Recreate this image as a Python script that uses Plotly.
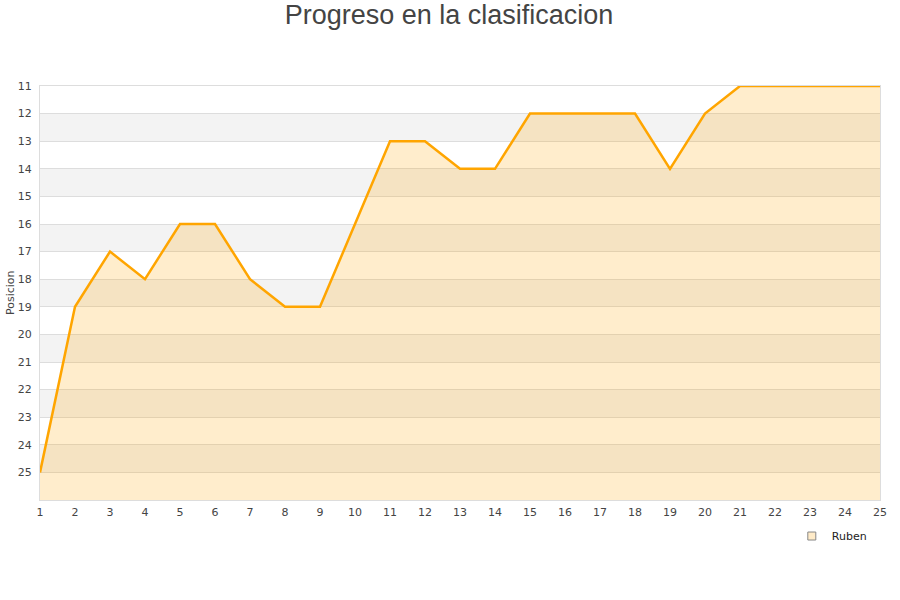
import plotly.graph_objects as go

jornadas = list(range(1, 26))
posicion = [25, 19, 17, 18, 16, 16, 18, 19, 19, 16, 13, 13, 14, 14, 12, 12, 12, 12, 14, 12, 11, 11, 11, 11, 11]
y_ticks = list(range(11, 26))
serie = "Ruben"

fig = go.Figure()

# baseline for fill (bottom of reversed axis)
fig.add_trace(go.Scatter(x=jornadas, y=[26] * len(jornadas), mode="lines",
                         line=dict(width=0, color="rgba(0,0,0,0)"), showlegend=False, hoverinfo="skip"))
fig.add_trace(go.Scatter(x=jornadas, y=posicion, mode="lines", fill="tonexty",
                         fillcolor="rgba(255,165,0,0.2)",
                         line=dict(color="#FFA500", width=2.5), showlegend=False, name=serie))
fig.add_trace(go.Scatter(x=[None], y=[None], mode="markers", name=serie,
                         marker=dict(symbol="square", size=8, color="rgb(255,235,200)",
                                     line=dict(color="#888", width=1))))

shapes = []
for lo in range(12, 26, 2):
    shapes.append(dict(type="rect", xref="paper", yref="y", x0=0, x1=1, y0=lo, y1=lo + 1,
                       fillcolor="#f3f3f3", line=dict(width=0), layer="below"))

fig.update_layout(
    width=900, height=600,
    margin=dict(l=40, r=20, t=86, b=100, autoexpand=False),
    paper_bgcolor="white", plot_bgcolor="white",
    title=dict(text="Progreso en la clasificacion", x=449 / 900, xanchor="center",
               y=1 - 15 / 600, yanchor="middle",
               font=dict(family="Liberation Sans, Arial, sans-serif", size=27, color="#444")),
    font=dict(family="DejaVu Sans, sans-serif", size=11, color="#444"),
    shapes=shapes,
    showlegend=True,
    legend=dict(x=0.895, y=-0.087, xanchor="left", yanchor="middle", bgcolor="rgba(0,0,0,0)",
                itemwidth=30, font=dict(size=11, color="#222")),
    annotations=[dict(text="Posicion", xref="paper", yref="paper", x=-30 / 840, y=0.5,
                      xanchor="center", yanchor="middle", textangle=-90, showarrow=False,
                      font=dict(size=11, color="#444"))],
    xaxis=dict(range=[1, 25], tickmode="array", tickvals=jornadas, showgrid=False,
               showline=True, linecolor="#ddd", linewidth=1, mirror=True, zeroline=False,
               ticks="", automargin=False, ticklabelstandoff=2),
    yaxis=dict(range=[26, 11], tickmode="array", tickvals=y_ticks, showgrid=True, gridcolor="#ddd",
               showline=True, linecolor="#ddd", linewidth=1, mirror=True, zeroline=False,
               ticks="", automargin=False, layer="below traces", ticklabelstandoff=5),
)

fig.write_html("out.html", config={"displayModeBar": False},
               post_script="document.body.style.margin='0';")
